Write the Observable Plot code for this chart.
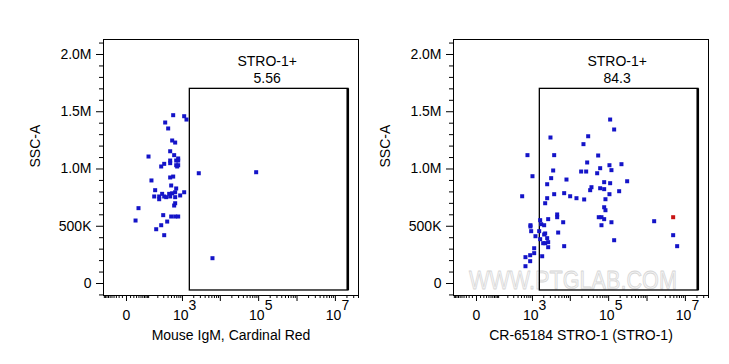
<!DOCTYPE html>
<html>
<head>
<meta charset="utf-8">
<script src="https://cdn.jsdelivr.net/npm/d3@7"></script>
<script src="https://cdn.jsdelivr.net/npm/@observablehq/plot@0.6"></script>
<style>
  html, body { margin: 0; padding: 0; background: white; }
  #wrap { position: relative; width: 729px; height: 364px; overflow: hidden; background: white; }
  #wrap > svg { position: absolute; top: 0; }
</style>
</head>
<body>
<div id="wrap"></div>
<script>
// ---------- data ----------
const leftX = [557,1111,1281,331,403,522,632,459,593,99,764,459,674,764,310,253,459,674,764,557,459,125,490,674,165,632,1111,270,430,866,154,220,310,354,459,220,632,632,593,38,26,290,490,632,764,378,253,178,310,2718,86150,6228,522,717];
const leftY = [1470000,1461000,1432000,1406000,1354000,1249000,1231000,1155000,1121000,1109000,1092000,1074000,1074000,1074000,1045000,1022000,1051000,1033000,1033000,934000,926000,900000,856000,830000,815000,797000,797000,783000,783000,769000,760000,760000,760000,754000,760000,736000,754000,701000,681000,658000,550000,597000,585000,585000,585000,541000,509000,474000,422000,963000,972000,221000,788000,1022000];

const rightX = [109400,139100,3013,29240,22040,731,3772,53320,27540,104970,215700,60120,118300,3550,19190,25920,50190,1000,3143,7928,303700,76430,109400,2466,35640,32970,60120,76430,187800,104970,3772,6900,9900,14470,22990,522,2466,82580,2182,76430,82580,4522,4522,55260,64980,76430,118300,6500,2620,1607,1710,2052,882,882,64980,1535000,4800000,6099000,139100,922,1512,2182,2052,1203,1607,2466,4803,1933,2182,2620,2620,6900,1111,1111,866,1818,644,866,644];
const rightY = [1432000,1345000,1275000,1286000,1217000,1121000,1121000,1118000,1057000,1033000,1042000,1007000,990000,987000,978000,978000,963000,937000,920000,908000,893000,885000,876000,867000,841000,815000,832000,824000,806000,780000,780000,789000,762000,745000,734000,762000,745000,736000,701000,666000,640000,603000,579000,579000,579000,562000,535000,535000,562000,553000,518000,509000,509000,498000,509000,544000,422000,326000,378000,457000,457000,437000,428000,413000,387000,396000,445000,352000,352000,361000,317000,326000,308000,265000,247000,238000,230000,195000,151000];
const rightRedX = [4800000];
const rightRedY = [579000];

const panelXLabels = ["Mouse IgM, Cardinal Red", "CR-65184 STRO-1 (STRO-1)"];
const gateName = "STRO-1+";
const gatePct = ["5.56", "84.3"];
const gateX = [1574, 21900000];
const gateY = [-61000, 1700000];
const gateLabelX = 166600;

const yMajorTicks = [0, 500000, 1000000, 1500000, 2000000];
const yMajorText = ["0", "500K", "1.0M", "1.5M", "2.0M"];
const xLabelTicks = [1000, 100000, 10000000];
const xLabelExp = ["3", "5", "7"];
const watermarkText = "WWW.PTGLAB.COM";
const watermarkPos = [11700, 26000];

// ---------- ticks ----------
const yMinorTicks = d3.range(-1, 22).map(k => k * 100000).filter(v => v % 500000 !== 0);
const xMajorTicks = [0, 1e3, 1e4, 1e5, 1e6, 1e7];
const xMinorTicks = [];
for (let k = 1; k <= 10; k++) xMinorTicks.push(-10 * k);
for (let e = 1; e <= 7; e++) for (let k = 1; k <= 9; k++) {
  const v = k * Math.pow(10, e);
  if (v <= 4e7 && !xMajorTicks.includes(v)) xMinorTicks.push(v);
}

const FONT = "'Liberation Sans', Arial, Helvetica, sans-serif";
const BLUE = "#1414c8";
const RED = "#c81414";

function panel(xs, ys, idx, redX, redY) {
  const pts = xs.map((x, i) => ({x, y: ys[i]}));
  const red = redX.map((x, i) => ({x, y: redY[i]}));
  const marks = [];
  if (idx === 1) {
    marks.push(Plot.text([{x: watermarkPos[0], y: watermarkPos[1]}], {
      x: "x", y: "y", text: () => watermarkText, fontSize: 26,
      fill: "#f4f4f4", stroke: "#d6d6d6", strokeWidth: 0.8, paintOrder: "normal"
    }));
  }
  marks.push(
    Plot.frame({stroke: "black", strokeWidth: 1}),
    Plot.axisY(yMajorTicks, {tickSize: 7, tickPadding: 5, fontSize: 14, label: null,
      tickFormat: v => yMajorText[yMajorTicks.indexOf(v)], stroke: "black", fill: "black"}),
    Plot.axisY(yMinorTicks, {tickSize: 4, label: null, tickFormat: () => "", stroke: "black"}),
    Plot.axisX(xMajorTicks, {tickSize: 6, label: null, tickFormat: () => "", stroke: "black"}),
    Plot.axisX(xMinorTicks, {tickSize: 3, label: null, tickFormat: () => "", stroke: "black"}),
    Plot.text([0], {x: d => d, frameAnchor: "bottom", text: () => "0", dy: 24, fontSize: 14, fill: "black"}),
    Plot.text(xLabelTicks, {x: d => d, frameAnchor: "bottom", text: () => "10", textAnchor: "end", dx: 6, dy: 24, fontSize: 14, fill: "black"}),
    Plot.text(xLabelTicks, {x: d => d, frameAnchor: "bottom", text: (d, i) => xLabelExp[i], textAnchor: "start", dx: 6, dy: 14, fontSize: 14, fill: "black"}),
    Plot.text([panelXLabels[idx]], {frameAnchor: "bottom", text: d => d, dy: 44, fontSize: 14, fill: "black"}),
    Plot.text(["SSC-A"], {frameAnchor: "left", text: d => d, rotate: -90, dx: -68, fontSize: 14, fill: "black"}),
    Plot.rect([{x1: gateX[0], x2: gateX[1], y1: gateY[0], y2: gateY[1]}], {
      x1: "x1", x2: "x2", y1: "y1", y2: "y2", fill: "none", stroke: "black", strokeWidth: 1.3}),
    Plot.ruleX([gateX[1]], {y1: gateY[0], y2: gateY[1], stroke: "black", strokeWidth: 2.6, dx: -0.7}),
    Plot.text([{x: gateLabelX, y: gateY[1]}], {x: "x", y: "y", text: () => gateName + "\n" + gatePct[idx],
      lineAnchor: "bottom", lineHeight: 1.18, dy: -6, fontSize: 14, fill: "black"}),
    Plot.dot(pts, {x: "x", y: "y", symbol: "square", r: 2.26, fill: BLUE, stroke: "none"}),
    Plot.dot(red, {x: "x", y: "y", symbol: "square", r: 2.26, fill: RED, stroke: "none"})
  );
  const svg = Plot.plot({
    width: 365, height: 364,
    marginLeft: 103, marginRight: 7, marginTop: 39, marginBottom: 69,
    x: {type: "symlog", constant: 36, domain: [-107, 4e7], label: null},
    y: {domain: [-104800, 2131000], label: null},
    style: {fontFamily: FONT, fontSize: "14px", background: "transparent", color: "black", overflow: "visible"},
    marks
  });
  d3.select(svg).selectAll("text").filter(function() { return this.textContent === watermarkText; })
    .attr("textLength", 208).attr("lengthAdjust", "spacingAndGlyphs");
  return svg;
}

const wrap = document.getElementById("wrap");
const a = panel(leftX, leftY, 0, [], []);
a.style.left = "0px";
const b = panel(rightX, rightY, 1, rightRedX, rightRedY);
b.style.left = "350px";
wrap.appendChild(a);
wrap.appendChild(b);
</script>
</body>
</html>
